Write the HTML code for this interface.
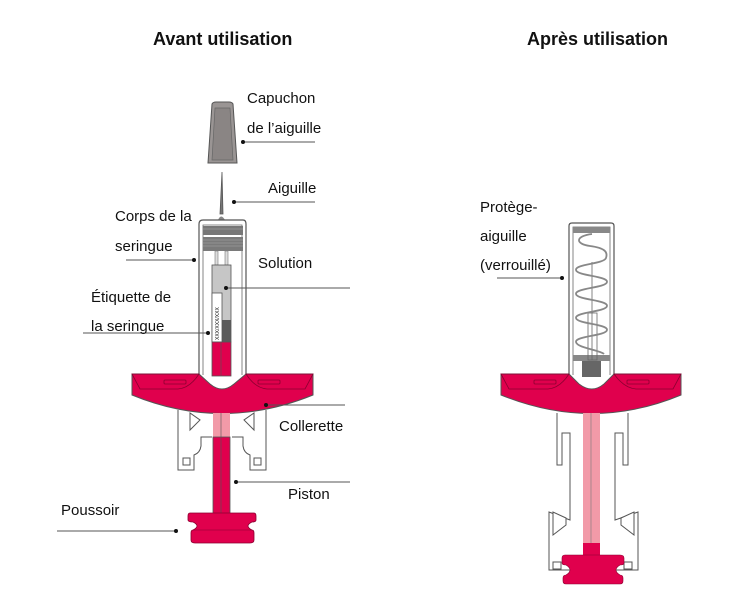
<!DOCTYPE html>
<html><head><meta charset="utf-8"><style>
html,body{margin:0;padding:0;background:#fff}
svg{display:block}
text{font-family:"Liberation Sans",Arial,sans-serif;font-size:15px;fill:#111}
.t{font-weight:bold;font-size:18px}
</style></head><body>
<svg width="755" height="613" viewBox="0 0 755 613" xmlns="http://www.w3.org/2000/svg">
<text class="t" x="153" y="45">Avant utilisation</text>
<text class="t" x="527" y="45">Après utilisation</text>

<!-- LEFT SYRINGE -->
<path d="M212 104 Q213 102 216 102 L229 102 Q232 102 233 104 L237 163 L208 163 Z" fill="#9a9594" stroke="#555" stroke-width="1"/>
<path d="M215 108 L230 108 L233 160 L212 160 Z" fill="#8a8584" stroke="#666" stroke-width="0.7"/>
<path d="M222 172 L220 214 L223 214 Z" fill="#777" stroke="#555" stroke-width="0.8"/>
<path d="M218 220 Q221 213 225 220 Z" fill="#888"/>
<path d="M199 375 L199 224 Q199 220 203 220 L243 220 Q246 220 246 224 L246 375" fill="#fff" stroke="#555" stroke-width="1.2"/>
<path d="M203 375 L203 225 L242 225 L242 375" fill="none" stroke="#666" stroke-width="0.8"/>
<rect x="203" y="226" width="40" height="9" fill="#777"/>
<rect x="203" y="237" width="40" height="14" fill="#7a7a7a"/>
<g stroke="#aaa" stroke-width="0.6"><line x1="203" y1="240" x2="243" y2="240"/><line x1="203" y1="243" x2="243" y2="243"/><line x1="203" y1="246" x2="243" y2="246"/><line x1="203" y1="229" x2="243" y2="229"/></g>
<rect x="215" y="251" width="3" height="14" fill="#ddd" stroke="#777" stroke-width="0.6"/>
<rect x="225" y="251" width="3" height="14" fill="#ddd" stroke="#777" stroke-width="0.6"/>
<rect x="212" y="265" width="19" height="77" fill="#c6c6c6" stroke="#555" stroke-width="0.8"/>
<rect x="222" y="320" width="9" height="22" fill="#5a5a5a"/>
<rect x="212" y="293" width="10" height="49" fill="#fff" stroke="#555" stroke-width="0.8"/>
<text x="0" y="0" transform="translate(219,340) rotate(-90)" style="font-size:5px">XXX/XXX/XXX</text>
<rect x="212" y="342" width="19" height="34" fill="#e0004d" stroke="#555" stroke-width="0.8"/>
<line x1="221" y1="342" x2="221" y2="376" stroke="#555" stroke-width="0.6"/>
<path d="M178 410 L178 470 L194 470 L194 455 Q200 453 201 446 L201 437 L212 437 M232 437 L243 437 L243 446 Q244 453 250 455 L250 470 L266 470 L266 410" fill="#fff" stroke="#555" stroke-width="1"/>
<rect x="183" y="458" width="7" height="7" fill="#fff" stroke="#555"/>
<rect x="254" y="458" width="7" height="7" fill="#fff" stroke="#555"/>
<path d="M190 413 L190 430 L200 420 Z M254 413 L254 430 L244 420 Z" fill="#fff" stroke="#555"/>
<path d="M132 374 L199 374 L210 384 Q222 394 234 384 L246 374 L313 374 L313 395 Q222 432 132 395 Z" fill="#e0004d" stroke="#555" stroke-width="1"/>
<path d="M132 374 L199 374 Q190 388 178 389 L140 389 Z M246 374 L313 374 L305 389 L267 389 Q255 388 246 374 Z" fill="none" stroke="#8a0030" stroke-width="0.8"/>
<rect x="164" y="380" width="22" height="4" rx="1" fill="none" stroke="#8a0030" stroke-width="0.8"/>
<rect x="258" y="380" width="22" height="4" rx="1" fill="none" stroke="#8a0030" stroke-width="0.8"/>
<rect x="213" y="413" width="17" height="24" fill="#f29aa8"/>
<rect x="213" y="437" width="17" height="78" fill="#e0004d" stroke="#555" stroke-width="0.8"/>
<line x1="221" y1="413" x2="221" y2="515" stroke="#555" stroke-width="0.6"/>
<path d="M190 513 H254 Q256 513 256 516 V520 Q256 522 252 522 Q244 526 252 530 Q254 530 254 533 V540 Q254 543 250 543 H195 Q191 543 191 540 V533 Q191 530 193 530 Q201 526 193 522 Q188 522 188 520 V516 Q188 513 190 513 Z" fill="#e0004d" stroke="#8a0030" stroke-width="0.8"/>
<line x1="193" y1="530" x2="252" y2="530" stroke="#8a0030" stroke-width="0.6"/>

<!-- RIGHT SYRINGE -->
<path d="M569 375 L569 226 Q569 223 572 223 L611 223 Q614 223 614 226 L614 375" fill="#fff" stroke="#555" stroke-width="1.2"/>
<path d="M573 375 L573 227 L610 227 L610 375" fill="none" stroke="#666" stroke-width="0.8"/>
<rect x="573" y="227" width="37" height="6" fill="#888"/>
<rect x="573" y="355" width="37" height="6" fill="#888"/>
<path d="M592 262 L592 360 M588 313 L588 360 L597 360 L597 313 Z" fill="none" stroke="#666" stroke-width="0.8"/>
<path d="M592 234 C575 236 575 244 590 246 S608 252 606 258 S575 264 576 270 S608 276 607 282 S575 288 576 294 S608 300 607 306 S575 312 576 318 S608 324 607 330 S575 336 576 342 S600 350 604 354" fill="none" stroke="#888" stroke-width="1.8"/>
<rect x="582" y="361" width="19" height="16" fill="#666"/>
<path d="M557 413 L557 465 L562 465 L562 433 L570 433 L570 520 L549 512 L549 570 L638 570 L638 512 L615 520 L615 433 L623 433 L623 465 L628 465 L628 413" fill="#fff" stroke="#555" stroke-width="1"/>
<path d="M553 512 L553 535 L566 525 L566 518 Z M634 512 L634 535 L621 525 L621 518 Z" fill="#fff" stroke="#555"/>
<rect x="553" y="562" width="8" height="7" fill="#fff" stroke="#555"/>
<rect x="624" y="562" width="8" height="7" fill="#fff" stroke="#555"/>
<path d="M501 374 L569 374 L579 384 Q592 394 604 384 L614 374 L681 374 L681 395 Q592 432 501 395 Z" fill="#e0004d" stroke="#555" stroke-width="1"/>
<path d="M501 374 L569 374 Q560 388 548 389 L509 389 Z M614 374 L681 374 L673 389 L636 389 Q624 388 614 374 Z" fill="none" stroke="#8a0030" stroke-width="0.8"/>
<rect x="534" y="380" width="22" height="4" rx="1" fill="none" stroke="#8a0030" stroke-width="0.8"/>
<rect x="627" y="380" width="22" height="4" rx="1" fill="none" stroke="#8a0030" stroke-width="0.8"/>
<rect x="583" y="413" width="17" height="130" fill="#f29aa8"/>
<line x1="591" y1="413" x2="591" y2="543" stroke="#777" stroke-width="0.6"/>
<rect x="583" y="543" width="17" height="14" fill="#e0004d"/>
<path d="M565 555 H620 Q624 555 624 558 V563 Q624 565 620 565 Q612 570 620 575 Q623 575 623 578 V581 Q623 584 620 584 H566 Q563 584 563 581 V578 Q563 575 566 575 Q574 570 566 565 Q562 565 562 563 V558 Q562 555 565 555 Z" fill="#e0004d" stroke="#8a0030" stroke-width="0.6"/>

<!-- LABELS & LEADERS -->
<g stroke="#555" stroke-width="1" fill="none">
<line x1="243" y1="142" x2="315" y2="142"/>
<line x1="234" y1="202" x2="315" y2="202"/>
<line x1="126" y1="260" x2="194" y2="260"/>
<line x1="226" y1="288" x2="350" y2="288"/>
<line x1="83" y1="333" x2="208" y2="333"/>
<line x1="266" y1="405" x2="345" y2="405"/>
<line x1="236" y1="482" x2="350" y2="482"/>
<line x1="57" y1="531" x2="176" y2="531"/>
<line x1="497" y1="278" x2="562" y2="278"/>
</g>
<g fill="#111">
<circle cx="243" cy="142" r="2"/><circle cx="234" cy="202" r="2"/><circle cx="194" cy="260" r="2"/>
<circle cx="226" cy="288" r="2"/><circle cx="208" cy="333" r="2"/><circle cx="266" cy="405" r="2"/>
<circle cx="236" cy="482" r="2"/><circle cx="176" cy="531" r="2"/><circle cx="562" cy="278" r="2"/>
</g>
<text x="247" y="103">Capuchon</text>
<text x="247" y="133">de l’aiguille</text>
<text x="268" y="193">Aiguille</text>
<text x="115" y="221">Corps de la</text>
<text x="115" y="251">seringue</text>
<text x="258" y="268">Solution</text>
<text x="91" y="302">Étiquette de</text>
<text x="91" y="331">la seringue</text>
<text x="279" y="431">Collerette</text>
<text x="288" y="499">Piston</text>
<text x="61" y="515">Poussoir</text>
<text x="480" y="212">Protège-</text>
<text x="480" y="241">aiguille</text>
<text x="480" y="270">(verrouillé)</text>
</svg>
</body></html>
